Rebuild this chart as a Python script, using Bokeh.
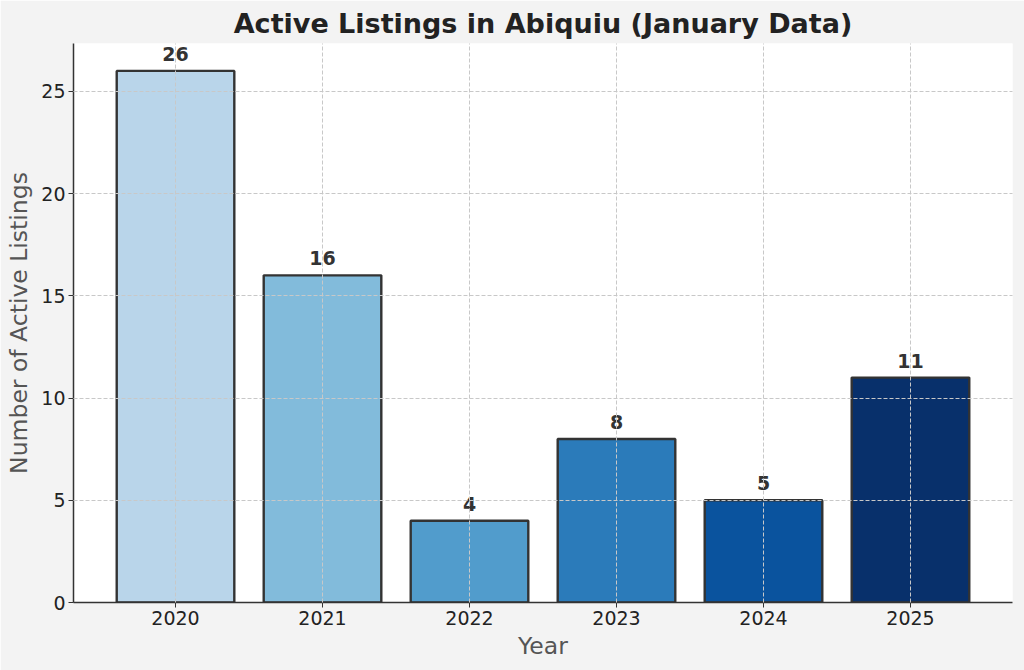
from bokeh.plotting import figure
from bokeh.models import ColumnDataSource, FixedTicker, LabelSet
from bokeh.core.properties import value
from bokeh.embed import file_html
from bokeh.resources import INLINE

years = [2020, 2021, 2022, 2023, 2024, 2025]
listings = [26, 16, 4, 8, 5, 11]
colors = ["#b9d5ea", "#82bbdb", "#519ccc", "#2b7bba", "#0a539e", "#08306b"]
y_ticks = [0, 5, 10, 15, 20, 25]

src = ColumnDataSource(dict(x=years, top=listings, color=colors,
                            label=[str(v) for v in listings]))

FONT = "DejaVu Sans"
BG = "#f3f3f3"

p = figure(width=1024, height=670, output_backend="svg", toolbar_location=None,
           x_range=(2019.306, 2025.694), y_range=(0, 27.34),
           title="Active Listings in Abiquiu (January Data)",
           min_border_left=73, min_border_right=12, min_border_bottom=68, min_border_top=0)
p.background_fill_color = "white"
p.border_fill_color = BG
p.outline_line_color = None

p.title.align = "center"
p.title.text_font = FONT
p.title.text_font_size = "27px"
p.title.text_font_style = "bold"
p.title.text_color = "#222222"

p.vbar(x="x", top="top", width=0.8, bottom=0, source=src, fill_color="color",
       line_color="#333333", line_width=2.4)

labels = LabelSet(x="x", y="top", text="label", source=src, text_align="center",
                  text_baseline="bottom", y_offset=10, text_font=value(FONT),
                  text_font_size="19px", text_font_style="bold", text_color="#333333")
p.add_layout(labels)

for ax in (p.xaxis, p.yaxis):
    ax.axis_line_color = "#333333"
    ax.axis_line_width = 1.5
    ax.major_tick_line_color = "#333333"
    ax.major_tick_in = 0
    ax.major_tick_out = 5
    ax.minor_tick_line_color = None
    ax.major_label_standoff = 3
    ax.major_label_text_font = FONT
    ax.major_label_text_font_size = "19px"
    ax.major_label_text_color = "#222222"
    ax.axis_label_text_font = FONT
    ax.axis_label_text_font_size = "23.5px"
    ax.axis_label_text_font_style = "normal"
    ax.axis_label_text_color = "#555555"

p.xaxis.ticker = FixedTicker(ticks=years)
p.yaxis.ticker = FixedTicker(ticks=y_ticks)
p.xaxis.axis_label = "Year"
p.yaxis.axis_label = "Number of Active Listings"
p.xaxis.axis_label_standoff = 4
p.yaxis.axis_label_standoff = 5

for g in (p.xgrid, p.ygrid):
    g.grid_line_color = "#c8c8c8"
    g.grid_line_dash = "4 2"
    g.grid_line_width = 1
    g.level = "overlay"
p.xgrid.ticker = FixedTicker(ticks=years)
p.ygrid.ticker = FixedTicker(ticks=y_ticks)

html = file_html(p, INLINE)
open("out.html", "w").write(html)
